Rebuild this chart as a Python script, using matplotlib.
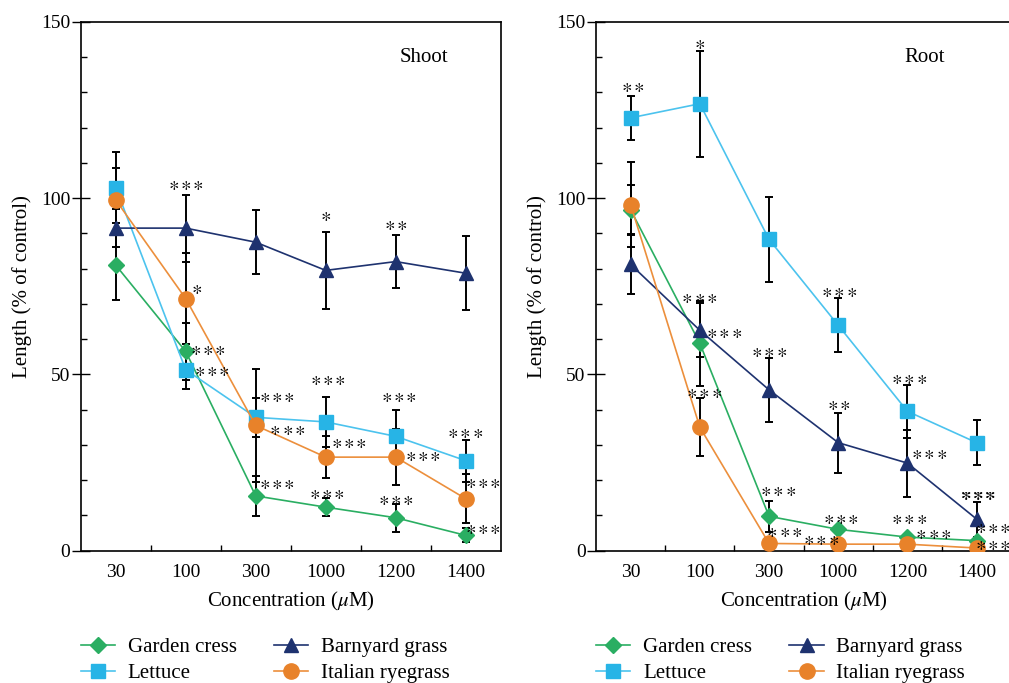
import matplotlib
matplotlib.use("Agg")
import matplotlib.pyplot as plt
import numpy as np

plt.rcParams['font.family'] = 'serif'
plt.rcParams['font.serif'] = ['Liberation Serif', 'DejaVu Serif']
plt.rcParams['mathtext.fontset'] = 'stix'

concentrations = ['30', '100', '300', '1000', '1200', '1400']
species = ['Garden cress', 'Lettuce', 'Barnyard grass', 'Italian ryegrass']

# Shoot length (% of control)
shoot_garden = [81, 56.5, 15.5, 12.3, 9.3, 4.3]
shoot_garden_err = [10, 8, 5.6, 2.5, 4, 2]
shoot_lettuce = [103, 51.3, 37.8, 36.5, 32.4, 25.5]
shoot_lettuce_err = [10, 5.5, 5.6, 7, 7.5, 6]
shoot_barnyard = [91.5, 91.5, 87.5, 79.5, 82, 78.7]
shoot_barnyard_err = [5.5, 9.5, 9, 11, 7.5, 10.5]
shoot_rye = [99.5, 71.5, 35.5, 26.5, 26.5, 14.7]
shoot_rye_err = [9, 13, 16, 6, 8, 7]

# Root length (% of control)
root_garden = [96.7, 58.8, 9.7, 6.0, 3.8, 2.8]
root_garden_err = [7, 12, 4.4, 1, 1, 1]
root_lettuce = [122.8, 126.8, 88.3, 63.9, 39.5, 30.6]
root_lettuce_err = [6.3, 15, 12, 7.7, 7.6, 6.4]
root_barnyard = [81.2, 62.5, 45.6, 30.6, 24.8, 8.9]
root_barnyard_err = [8.3, 7.7, 9, 8.5, 9.5, 5]
root_rye = [98.2, 35, 2.0, 1.8, 1.8, 0.7]
root_rye_err = [12, 8.3, 0, 0, 0, 0]

# significance labels (text, x category position, y value)
shoot_sig_text = ['***', '*', '***', '***', '***', '***', '***', '*', '***', '***', '***',
                  '**', '***', '***', '***', '***', '***', '***']
shoot_sig_x = [1.0, 1.15, 1.31, 1.37, 2.30, 2.45, 2.30, 3.0, 3.03, 3.33, 3.01,
               4.0, 4.04, 4.38, 4.0, 4.99, 5.24, 5.24]
shoot_sig_y = [104.3, 74.8, 57.4, 51.4, 44, 34.7, 19.4, 95.4, 48.8, 31, 16.6,
               92.8, 44, 27.3, 14.7, 33.9, 19.7, 6.6]
shoot_sig_bold = [False] * len(shoot_sig_text)

root_sig_text = ['**', '*', '***', '***', '***', '***', '***', '**', '***', '***',
                 '***', '***', '***', '***', '***', '***', '***', '***', '***']
root_sig_x = [0.03, 1.0, 0.99, 1.35, 1.06, 2.0, 3.01, 3.0, 4.02, 4.31,
              2.13, 2.22, 2.75, 3.03, 4.02, 4.37, 5.01, 5.23, 5.23]
root_sig_y = [131.9, 144.3, 72.2, 62.1, 45.1, 56.7, 73.7, 41.7, 49.1, 27.8,
              17.2, 5.7, 3.5, 9.3, 9.4, 5.0, 15.9, 6.7, 2.1]
root_sig_bold = [False] * 16 + [True, False, False]

colors = {'Garden cress': '#2aae62', 'Lettuce': '#27b4e6',
          'Barnyard grass': '#1e326f', 'Italian ryegrass': '#e8822a'}
line_colors = {'Garden cress': '#2aae62', 'Lettuce': '#4cc3ee',
               'Barnyard grass': '#1e326f', 'Italian ryegrass': '#ec8f3c'}
markers = {'Garden cress': ('D', 8), 'Lettuce': ('s', 10.5),
           'Barnyard grass': ('^', 10.5), 'Italian ryegrass': ('o', 11)}

W, H = 1009, 683
fig = plt.figure(figsize=(W / 100, H / 100), dpi=100)

def fx(px):
    return px / W

def fy(py):
    return 1 - py / H

ax1 = fig.add_axes([fx(80.7), fy(550.5), fx(500.7 - 80.7), (550.5 - 22) / H])
ax2 = fig.add_axes([fx(596), fy(550.5), fx(1011.3 - 596), (550.5 - 22) / H])

panels = [
    (ax1, [shoot_garden, shoot_lettuce, shoot_barnyard, shoot_rye],
     [shoot_garden_err, shoot_lettuce_err, shoot_barnyard_err, shoot_rye_err],
     'Shoot', 4.4, (shoot_sig_text, shoot_sig_x, shoot_sig_y, shoot_sig_bold), -0.116),
    (ax2, [root_garden, root_lettuce, root_barnyard, root_rye],
     [root_garden_err, root_lettuce_err, root_barnyard_err, root_rye_err],
     'Root', 4.25, (root_sig_text, root_sig_x, root_sig_y, root_sig_bold), -0.118),
]

star_pitch = 8.8  # points between asterisks

x = np.arange(len(concentrations))
for ax, vals, errs, title, tx, sig, ylx in panels:
    handles = []
    for name, v, e in zip(species, vals, errs):
        ax.errorbar(x, v, yerr=e, fmt='none', ecolor='black', elinewidth=1.4,
                    capsize=3.2, capthick=1.4, zorder=2)
    for name, v in zip(species, vals):
        m, ms = markers[name]
        h, = ax.plot(x, v, color=line_colors[name], lw=1.2, marker=m, ms=ms,
                     markerfacecolor=colors[name], markeredgecolor=colors[name],
                     zorder=3, label=name)
        handles.append(h)
    ax.set_xlim(-0.5, 5.5)
    ax.set_ylim(0, 150)
    ax.set_xticks(x)
    ax.set_xticklabels(concentrations, fontsize=14)
    ax.set_xticks(np.arange(0.5, 5.0, 1.0), minor=True)
    ax.tick_params(axis='x', which='major', length=0, pad=10)
    ax.tick_params(axis='x', which='minor', direction='in', length=4.5, width=1)
    ax.set_yticks([0, 50, 100, 150])
    ax.set_yticklabels(['0', '50', '100', '150'], fontsize=14)
    ax.set_yticks(np.arange(0, 151, 10), minor=True)
    ax.tick_params(axis='y', which='major', direction='inout', length=13, width=1, pad=1)
    ax.tick_params(axis='y', which='minor', direction='in', length=4, width=1)
    for s in ax.spines.values():
        s.set_linewidth(1.2)
    ax.set_xlabel('Concentration ($\\mu$M)', fontsize=15)
    ax.xaxis.set_label_coords(0.5, -0.074)
    ax.set_ylabel('Length (% of control)', fontsize=15)
    ax.yaxis.set_label_coords(ylx, 0.5)
    ax.text(tx, 140, title, fontsize=15, ha='center', va='center')
    for t, sx, sy, b in zip(*sig):
        n = len(t)
        star = r'$\mathbf{*}$' if b else r'$*$'
        for k in range(n):
            off = (k - (n - 1) / 2) * star_pitch
            ax.annotate(star, (sx, sy), xytext=(off, 3.2), textcoords='offset points',
                        ha='center', va='top', fontsize=15, zorder=4,
                        annotation_clip=False)
    ax.legend(handles=handles, loc='upper left',
              bbox_to_anchor=(ax.get_position().x0, fy(637.5)),
              bbox_transform=fig.transFigure, ncol=2, frameon=False,
              fontsize=15, borderpad=0, borderaxespad=0, handlelength=1.65,
              handletextpad=0.6, columnspacing=1.8, labelspacing=0.3)

fig.savefig('out.png', dpi=100)
